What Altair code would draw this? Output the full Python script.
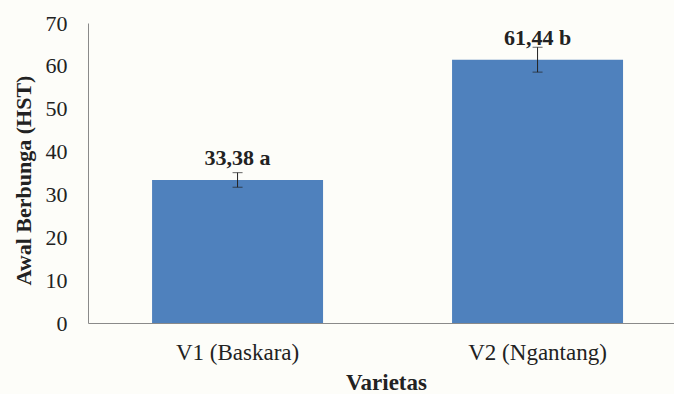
import altair as alt
import pandas as pd

# Flowering onset per variety (days after planting)
varietas = ["V1 (Baskara)", "V2 (Ngantang)"]
rata_rata = [33.38, 61.44]
galat = [1.7, 2.9]
notasi = ["a", "b"]
y_ticks = [0, 10, 20, 30, 40, 50, 60, 70]

df = pd.DataFrame({
    "Varietas": varietas,
    "Rata": rata_rata,
    "Bawah": [m - e for m, e in zip(rata_rata, galat)],
    "Atas": [m + e for m, e in zip(rata_rata, galat)],
    "Label": [f"{m:.2f}".replace(".", ",") + " " + n for m, n in zip(rata_rata, notasi)],
})

FONT = "Liberation Serif, Times New Roman, serif"

x_enc = alt.X(
    "Varietas:N",
    sort=varietas,
    scale=alt.Scale(paddingInner=0.43, paddingOuter=0.1917, align=0.557),
    axis=alt.Axis(
        title="Varietas",
        labelAngle=0,
        ticks=False,
        labelPadding=36,
        labelBaseline="alphabetic",
        labelFont=FONT,
        labelFontSize=23,
        titleFontSize=23,
        titleX=298,
        titleY=66,
        titleBaseline="alphabetic",
    ),
)

y_scale = alt.Scale(domain=[0, 70], nice=False)
y_axis = alt.Axis(
    title="Awal Berbunga (HST)",
    values=y_ticks,
    ticks=False,
    grid=False,
    labelPadding=21,
    labelFont=FONT,
    labelFontSize=22,
    titleFontSize=22,
    titleX=-65,
    titleY=157,
    titleBaseline="middle",
)

base = alt.Chart(df)

bars = base.mark_bar(color="#4F81BD").encode(
    x=x_enc,
    y=alt.Y("Rata:Q", scale=y_scale, axis=y_axis),
)

err = base.mark_rule(color="#222222", strokeWidth=1).encode(
    x=alt.X("Varietas:N", sort=varietas),
    y="Bawah:Q",
    y2="Atas:Q",
)

cap_lo = base.mark_tick(color="#222222", thickness=1, size=10).encode(
    x=alt.X("Varietas:N", sort=varietas),
    y="Bawah:Q",
)
cap_hi = base.mark_tick(color="#222222", thickness=1, size=10).encode(
    x=alt.X("Varietas:N", sort=varietas),
    y="Atas:Q",
)

labels = base.mark_text(
    fontSize=22, fontWeight="bold", color="#222222",
    baseline="alphabetic", dy=-15,
).encode(
    x=alt.X("Varietas:N", sort=varietas),
    y="Rata:Q",
    text="Label:N",
)

chart = (
    alt.layer(bars, err, cap_lo, cap_hi, labels)
    .properties(
        width=586,
        height=300,
        autosize=alt.AutoSizeParams(type="none"),
        padding={"left": 88, "top": 23, "right": 0, "bottom": 71},
        background="#fdfdf9",
    )
    .configure(font=FONT)
    .configure_view(stroke=None)
    .configure_axis(
        labelFont=FONT,
        labelColor="#222222",
        titleFont=FONT,
        titleFontWeight="bold",
        titleColor="#222222",
        domainColor="#8a8a8a",
    )
)

chart.save("out.html", embed_options={"renderer": "svg", "actions": False})
